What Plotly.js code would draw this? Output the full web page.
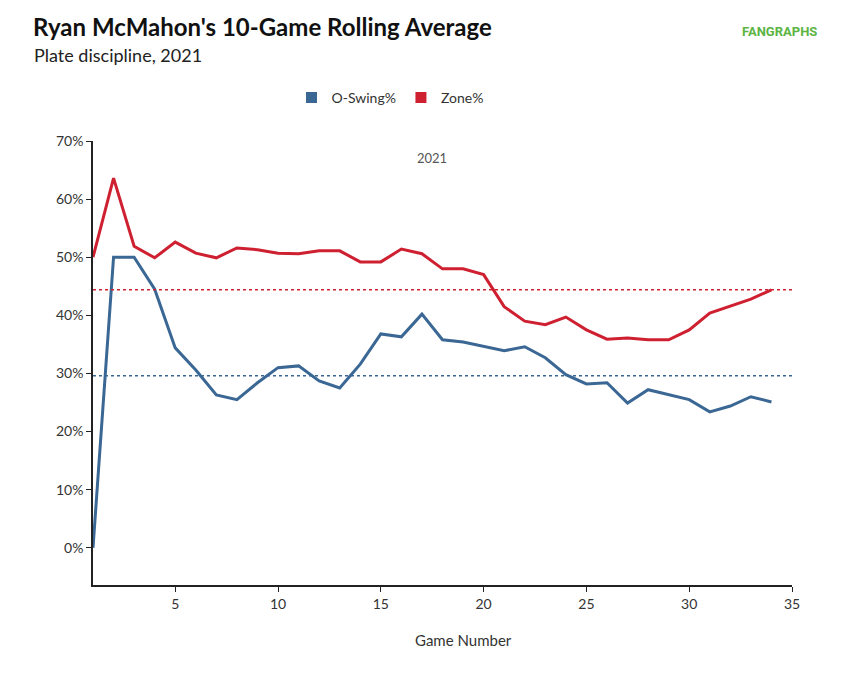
<!DOCTYPE html>
<html><head><meta charset="utf-8">
<script src="https://cdn.plot.ly/plotly-3.0.1.min.js"></script>
<style>body{margin:0;background:#fff}</style>
</head><body>
<div id="chart" style="width:842px;height:677px"></div>
<script>
const games = Array.from({length: 34}, (_, i) => i + 1);
const oSwing = [0, 50, 50, 44.5, 34.4, 30.6, 26.3, 25.5, 28.4, 31, 31.3, 28.7, 27.5, 31.6, 36.8, 36.3, 40.2, 35.8, 35.4, 34.6, 33.9, 34.6, 32.7, 29.8, 28.2, 28.4, 24.9, 27.2, 26.3, 25.5, 23.4, 24.4, 26.0, 25.1];
const zone = [50, 63.6, 51.9, 49.9, 52.6, 50.7, 49.9, 51.6, 51.3, 50.7, 50.6, 51.1, 51.1, 49.2, 49.2, 51.4, 50.6, 48, 48, 47, 41.5, 39, 38.4, 39.7, 37.5, 35.9, 36.1, 35.8, 35.8, 37.5, 40.4, 41.6, 42.8, 44.4];
const oSwingAvg = 29.6;
const zoneAvg = 44.4;
const yTicks = [0, 10, 20, 30, 40, 50, 60, 70];
const yTickText = yTicks.map(v => v + '%');
const blue = '#3a6794', red = '#ce2031';

const data = [
  {x: games, y: oSwing, type: 'scatter', mode: 'lines', showlegend: false, line: {color: blue, width: 3}},
  {x: games, y: zone, type: 'scatter', mode: 'lines', showlegend: false, line: {color: red, width: 3}},
  {x: [1, 35], y: [oSwingAvg, oSwingAvg], mode: 'lines', showlegend: false, line: {color: blue, width: 1.5, dash: 'dot'}},
  {x: [1, 35], y: [zoneAvg, zoneAvg], mode: 'lines', showlegend: false, line: {color: red, width: 1.5, dash: 'dot'}},
  {x: [null], y: [null], mode: 'markers', name: 'O-Swing%', marker: {symbol: 'square', size: 11, color: blue}},
  {x: [null], y: [null], mode: 'markers', name: 'Zone%', marker: {symbol: 'square', size: 11, color: red}}
];

const plotH = 677 - 141 - 92, plotW = 842 - 93 - 50;
const py = y => (677 - 92 - y) / plotH, px = x => (x - 93) / plotW;

const layout = {
  width: 842, height: 677,
  margin: {l: 93, r: 50, t: 141, b: 92},
  font: {family: 'Lato, sans-serif', color: '#333', size: 14},
  showlegend: true,
  legend: {orientation: 'h', x: px(390), xanchor: 'center', y: py(98), yanchor: 'middle', font: {size: 14}, itemwidth: 30},
  xaxis: {range: [1, 35], tickvals: [5, 10, 15, 20, 25, 30, 35], showgrid: false, zeroline: false,
    showline: true, linecolor: '#222', linewidth: 1.5, ticks: 'outside', ticklen: 5, tickcolor: '#222'},
  yaxis: {range: [-6.4, 70], tickvals: yTicks, ticktext: yTickText, showgrid: false, zeroline: false,
    showline: true, linecolor: '#222', linewidth: 1.5, ticks: 'outside', ticklen: 5, tickcolor: '#222'},
  annotations: [
    {text: '2021', x: px(432), y: py(158), xref: 'paper', yref: 'paper', yanchor: 'middle', showarrow: false, font: {size: 13, color: '#555'}},
    {text: 'Game Number', x: px(463), y: py(640), xref: 'paper', yref: 'paper', yanchor: 'middle', showarrow: false, font: {size: 15, color: '#333'}},
    {text: "<b>Ryan McMahon's 10-Game Rolling Average</b>", x: px(31), y: py(27), xanchor: 'left', yanchor: 'middle', xref: 'paper', yref: 'paper', showarrow: false, font: {size: 24, color: '#111'}},
    {text: 'Plate discipline, 2021', x: px(32), y: py(55), xanchor: 'left', yanchor: 'middle', xref: 'paper', yref: 'paper', showarrow: false, font: {size: 18, color: '#222'}},
    {text: '<b>FANGRAPHS</b>', x: px(819), y: py(31), xanchor: 'right', yanchor: 'middle', xref: 'paper', yref: 'paper', showarrow: false, font: {size: 13, color: '#5cb443', family: 'Roboto, sans-serif'}}
  ]
};

Plotly.newPlot('chart', data, layout, {displayModeBar: false});
</script>
</body></html>
